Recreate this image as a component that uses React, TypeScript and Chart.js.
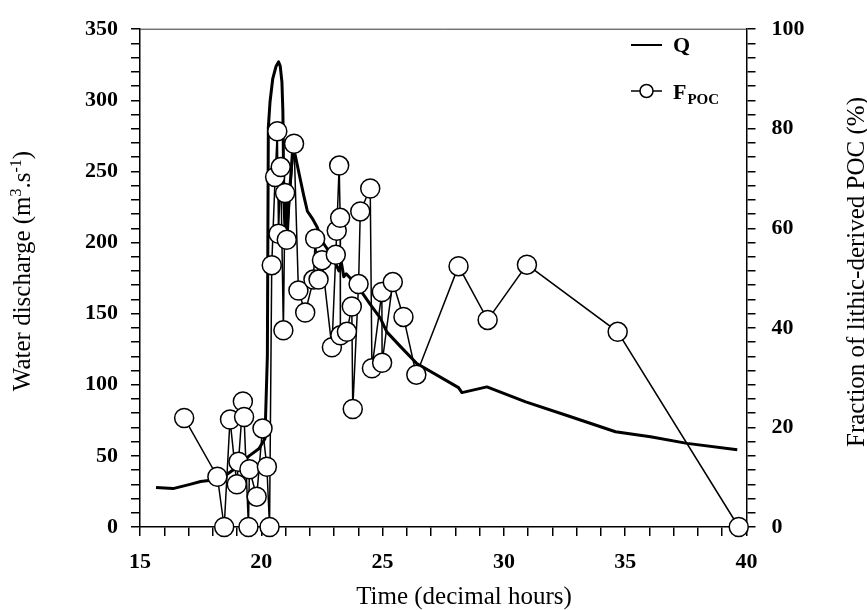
import React, { useEffect, useRef } from 'react';
import { Chart, registerables } from 'chart.js';

Chart.register(...registerables);

// ---- Data ----
// Water discharge Q (m3/s) vs time (decimal hours)
const Q_TIME = [
  15.66, 16.36, 17.06, 17.5, 18.0, 18.5, 19.0, 19.5, 19.9, 20.15, 20.25, 20.29,
  20.36, 20.47, 20.61, 20.71, 20.78, 20.85, 20.89, 20.93, 20.97, 21.02, 21.08,
  21.15, 21.3, 21.39, 21.6, 21.75, 21.9, 22.1, 22.3, 22.5, 22.7, 23.1, 23.2,
  23.3, 23.4, 23.5, 23.94, 24.49, 24.9, 25.18, 25.73, 26.41, 28.13, 28.27, 29.3,
  30.9, 32.6, 34.6, 36.04, 37.55, 39.62,
];
const Q_VALUES = [
  27.8, 27, 30, 32, 33, 36, 42, 50, 55, 62, 120, 281,
  299, 315, 324, 327, 324, 313, 292, 230, 212, 228, 208,
  232, 267, 262, 245, 233, 222, 217, 211, 201, 196, 184, 180,
  186, 176, 178, 170, 156.5, 147, 137, 127, 115, 98, 94.5, 98.5,
  88, 78.4, 67, 63.4, 58.8, 54.3,
];

// Fraction of lithic-derived POC (%) vs time (decimal hours)
const F_TIME = [
  16.82, 18.19, 18.47, 18.71, 18.99, 19.06, 19.24, 19.29, 19.47, 19.51, 19.81,
  20.05, 20.23, 20.34, 20.43, 20.57, 20.66, 20.71, 20.8, 20.91, 20.98, 21.05,
  21.35, 21.53, 21.81, 22.15, 22.22, 22.36, 22.5, 22.91, 23.07, 23.11, 23.21,
  23.25, 23.26, 23.53, 23.73, 23.77, 24.01, 24.08, 24.49, 24.56, 24.97, 24.98,
  25.42, 25.86, 26.39, 28.13, 29.33, 30.95, 34.69, 39.68,
];
const F_VALUES = [
  21.9, 10.1, 0, 21.6, 8.6, 13.1, 25.2, 22.1, 0, 11.6, 6.1,
  19.8, 12.1, 0, 52.6, 70.3, 79.5, 58.9, 72.3, 39.5, 67.1, 57.7,
  77, 47.5, 43.1, 49.7, 57.9, 49.7, 53.6, 36.1, 54.7, 59.5, 72.6,
  62.1, 38.5, 39.2, 44.3, 23.7, 48.8, 63.4, 68, 31.9, 47.2, 33,
  49.2, 42.2, 30.6, 52.4, 41.6, 52.7, 39.2, 0,
];

// Tick labels
const X_TICK_LABELS = [15, 20, 25, 30, 35, 40];
const LEFT_TICK_LABELS = [0, 50, 100, 150, 200, 250, 300, 350];
const RIGHT_TICK_LABELS = [0, 20, 40, 60, 80, 100];
// Right-axis minor ticks sit at every 10 m3/s of the left axis
const LEFT_MINOR_STEPS = [
  0, 10, 20, 30, 40, 50, 60, 70, 80, 90, 100, 110, 120, 130, 140, 150, 160, 170,
  180, 190, 200, 210, 220, 230, 240, 250, 260, 270, 280, 290, 300, 310, 320, 330,
  340, 350,
];

const X_TITLE = 'Time (decimal hours)';
const LEFT_TITLE_RUNS = [
  { text: 'Water discharge (m', sup: false },
  { text: '3', sup: true },
  { text: '.s', sup: false },
  { text: '-1', sup: true },
  { text: ')', sup: false },
];
const RIGHT_TITLE = 'Fraction of lithic-derived POC (%)';
const LEGEND_Q = 'Q';
const LEGEND_F = 'F';
const LEGEND_F_SUB = 'POC';

const SERIF = '"Liberation Serif", "Times New Roman", serif';

function drawRuns(ctx: any, runs: { text: string; sup: boolean }[], x: number, y: number, rot: number) {
  const fontFor = (r: { sup: boolean }) => `${r.sup ? 16 : 25}px ${SERIF}`;
  let total = 0;
  for (const r of runs) {
    ctx.font = fontFor(r);
    total += ctx.measureText(r.text).width;
  }
  ctx.save();
  ctx.translate(x, y);
  ctx.rotate(rot);
  ctx.textAlign = 'left';
  ctx.textBaseline = 'alphabetic';
  let cx = -total / 2;
  for (const r of runs) {
    ctx.font = fontFor(r);
    ctx.fillText(r.text, cx, r.sup ? -9 : 0);
    cx += ctx.measureText(r.text).width;
  }
  ctx.restore();
}

export default function App() {
  const ref = useRef<HTMLCanvasElement>(null);

  useEffect(() => {
    const canvas = ref.current;
    if (!canvas) return;

    const overlay = {
      id: 'overlay',
      afterDraw(chart: any) {
        const { ctx, chartArea } = chart;
        const { left, right, top } = chartArea;
        ctx.save();
        // top frame line
        ctx.strokeStyle = '#333';
        ctx.lineWidth = 1;
        ctx.beginPath();
        ctx.moveTo(left, top);
        ctx.lineTo(right, top);
        ctx.stroke();

        ctx.fillStyle = '#000';
        // x title
        ctx.font = `25px ${SERIF}`;
        ctx.textAlign = 'center';
        ctx.textBaseline = 'alphabetic';
        ctx.fillText(X_TITLE, 464, 604);
        // left & right titles
        drawRuns(ctx, LEFT_TITLE_RUNS, 30, 271, -Math.PI / 2);
        drawRuns(ctx, [{ text: RIGHT_TITLE, sup: false }], 864, 272, -Math.PI / 2);

        // legend
        ctx.strokeStyle = '#000';
        ctx.lineWidth = 2;
        ctx.beginPath();
        ctx.moveTo(631, 45);
        ctx.lineTo(662, 45);
        ctx.stroke();
        ctx.font = `bold 22px ${SERIF}`;
        ctx.textAlign = 'left';
        ctx.fillText(LEGEND_Q, 673, 52);

        ctx.lineWidth = 1.5;
        ctx.beginPath();
        ctx.moveTo(631, 91);
        ctx.lineTo(662, 91);
        ctx.stroke();
        ctx.beginPath();
        ctx.arc(646.5, 91, 6.5, 0, Math.PI * 2);
        ctx.fillStyle = '#fff';
        ctx.fill();
        ctx.stroke();
        ctx.fillStyle = '#000';
        ctx.font = `bold 22px ${SERIF}`;
        ctx.fillText(LEGEND_F, 673, 98.5);
        const fw = ctx.measureText(LEGEND_F).width;
        ctx.font = `bold 15px ${SERIF}`;
        ctx.fillText(LEGEND_F_SUB, 673 + fw + 1, 103.5);
        ctx.restore();
      },
    };

    const tickFont = { family: SERIF, size: 22, weight: 'bold' as const };
    const gridOpts = {
      drawOnChartArea: false,
      drawTicks: true,
      tickLength: 9,
      tickWidth: 1.5,
      tickColor: '#000',
      color: '#000',
      lineWidth: 1.5,
    };
    const borderOpts = { display: true, color: '#000', width: 1.5 };

    const chart = new Chart(canvas, {
      type: 'line',
      data: {
        datasets: [
          {
            label: 'FPOC',
            data: F_TIME.map((t, i) => ({ x: t, y: F_VALUES[i] })),
            yAxisID: 'y1',
            borderColor: '#000',
            borderWidth: 1.5,
            pointRadius: 9.5,
            pointHoverRadius: 9.5,
            pointBackgroundColor: '#fff',
            pointBorderColor: '#000',
            pointBorderWidth: 1.5,
            tension: 0,
            clip: false as any,
          },
          {
            label: 'Q',
            data: Q_TIME.map((t, i) => ({ x: t, y: Q_VALUES[i] })),
            yAxisID: 'y',
            borderColor: '#000',
            borderWidth: 3,
            borderJoinStyle: 'round',
            pointRadius: 0,
            pointHoverRadius: 0,
            tension: 0,
          },
        ],
      },
      options: {
        responsive: false,
        animation: false,
        devicePixelRatio: 1,
        events: [],
        layout: { padding: { top: 19.5, left: 0, right: 0, bottom: 0 } },
        plugins: {
          legend: { display: false },
          tooltip: { enabled: false },
          title: { display: false },
        },
        scales: {
          x: {
            type: 'linear',
            position: 'bottom',
            min: 15,
            max: 40,
            afterFit: (s: any) => {
              s.height = 83;
            },
            ticks: {
              stepSize: 1,
              autoSkip: false,
              maxRotation: 0,
              padding: 13,
              color: '#000',
              font: tickFont,
              callback: (v: any) => (X_TICK_LABELS.includes(Number(v)) ? String(v) : ''),
            },
            grid: gridOpts,
            border: borderOpts,
          },
          y: {
            type: 'linear',
            position: 'left',
            min: 0,
            max: 350,
            afterFit: (s: any) => {
              s.width = 140;
            },
            ticks: {
              stepSize: 10,
              autoSkip: false,
              padding: 13,
              color: '#000',
              font: tickFont,
              callback: (v: any) => (LEFT_TICK_LABELS.includes(Number(v)) ? String(v) : ''),
            },
            grid: gridOpts,
            border: borderOpts,
          },
          y1: {
            type: 'linear',
            position: 'right',
            min: 0,
            max: 100,
            afterFit: (s: any) => {
              s.width = 120.5;
            },
            afterBuildTicks: (s: any) => {
              s.ticks = LEFT_MINOR_STEPS.map((q) => ({ value: (q * 100) / 350 }));
            },
            ticks: {
              autoSkip: false,
              padding: 16,
              color: '#000',
              font: tickFont,
              callback: (v: any) => {
                const m = RIGHT_TICK_LABELS.find((l) => Math.abs(l - Number(v)) < 1e-6);
                return m === undefined ? '' : String(m);
              },
            },
            grid: gridOpts,
            border: borderOpts,
          },
        },
      } as any,
      plugins: [overlay],
    });

    return () => chart.destroy();
  }, []);

  return (
    <div style={{ position: 'absolute', left: 0, top: 0, width: 867, height: 610, background: '#fff' }}>
      <canvas ref={ref} width={867} height={610} style={{ display: 'block' }} />
    </div>
  );
}
